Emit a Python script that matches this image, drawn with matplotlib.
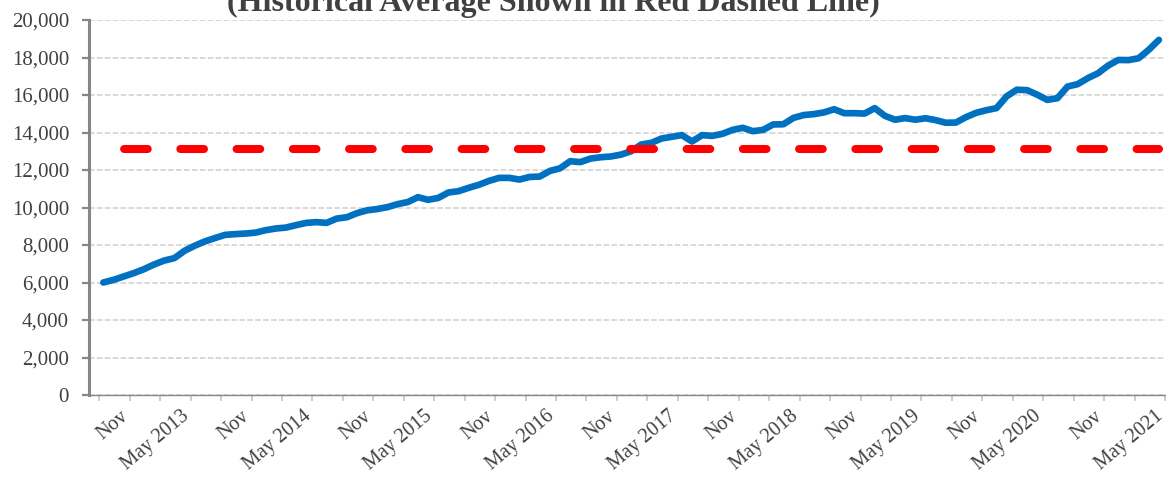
import matplotlib
matplotlib.use("Agg")
import matplotlib.pyplot as plt
import matplotlib.transforms as mtransforms
import numpy as np

plt.rcParams['font.family'] = ['Liberation Serif', 'DejaVu Serif']
plt.rcParams['lines.scale_dashes'] = False

title = "(Historical Average Shown in Red Dashed Line)"

values = [6000, 6140, 6320, 6500, 6710, 6960, 7170, 7300, 7690, 7960,
          8190, 8370, 8540, 8580, 8610, 8660, 8790, 8880, 8930, 9060,
          9180, 9220, 9180, 9410, 9480, 9700, 9850, 9920, 10020, 10180,
          10290, 10550, 10410, 10510, 10800, 10870, 11050, 11210, 11420, 11580,
          11580, 11490, 11630, 11650, 11950, 12090, 12470, 12420, 12610, 12680,
          12720, 12820, 13000, 13360, 13450, 13680, 13770, 13860, 13520, 13860,
          13820, 13930, 14140, 14250, 14070, 14140, 14430, 14440, 14780, 14930,
          14980, 15070, 15240, 15030, 15030, 15010, 15300, 14890, 14680, 14770,
          14680, 14760, 14660, 14520, 14530, 14820, 15050, 15190, 15300, 15930,
          16280, 16260, 16020, 15740, 15830, 16450, 16580, 16900, 17160, 17570,
          17870, 17860, 17960, 18410, 18940]

historical_average = 13100

tick_labels = ["Nov", "May 2013", "Nov", "May 2014", "Nov", "May 2015",
               "Nov", "May 2016", "Nov", "May 2017", "Nov", "May 2018",
               "Nov", "May 2019", "Nov", "May 2020", "Nov", "May 2021"]

y_ticks = list(range(0, 20001, 2000))

x = np.arange(len(values))

fig = plt.figure(figsize=(11.66, 4.80), dpi=100)
ax = fig.add_axes([88.8 / 1166, 85 / 480, (1165 - 88.8) / 1166, 375 / 480])

ax.plot(x, values, color='#0070C0', linewidth=4.8,
        solid_capstyle='round', solid_joinstyle='round', zorder=3)
ax.plot(x, [historical_average] * len(x), color='#FF0000', linewidth=5.8,
        linestyle=(25.3, (17.0, 23.5)), dash_capstyle='round', zorder=4)

ax.set_xlim(-1.43, 104.6)
ax.set_ylim(0, 20000)

major = [2.6 + 6 * j for j in range(len(tick_labels))]
minor = [-0.4 + 6 * j for j in range(len(tick_labels))]
ax.set_xticks(major)
ax.set_xticklabels(tick_labels, rotation=40, ha='right', va='center',
                   rotation_mode='anchor')
ax.set_xticks(minor, minor=True)
ax.tick_params(axis='x', which='both', length=4.2, width=1.1, color='#BFBFBF',
               direction='out', pad=9.5, labelsize=14.5, labelcolor='#404040')
shift = mtransforms.ScaledTranslation(-4 / 100, 0, fig.dpi_scale_trans)
for lab in ax.get_xticklabels():
    lab.set_transform(lab.get_transform() + shift)

ax.set_yticks(y_ticks)
ax.set_yticklabels([f"{v:,}" for v in y_ticks])
ax.tick_params(axis='y', length=5, width=1.6, color='#868686', direction='out',
               pad=9.2, labelsize=15, labelcolor='#404040')

ax.grid(axis='y', color='#D9D9D9', linewidth=1.4, linestyle=(0, (4, 1.7)))
ax.set_axisbelow(True)

for s in ['top', 'right']:
    ax.spines[s].set_visible(False)
ax.spines['left'].set_color('#868686')
ax.spines['left'].set_linewidth(2.2)
ax.spines['bottom'].set_color('#868686')
ax.spines['bottom'].set_linewidth(1.0)

fig.text(553 / 1166, 1 - 11 / 480, title, ha='center', va='baseline',
         fontsize=23, fontweight='bold', color='#404040')

fig.savefig('out.png', dpi=100)
